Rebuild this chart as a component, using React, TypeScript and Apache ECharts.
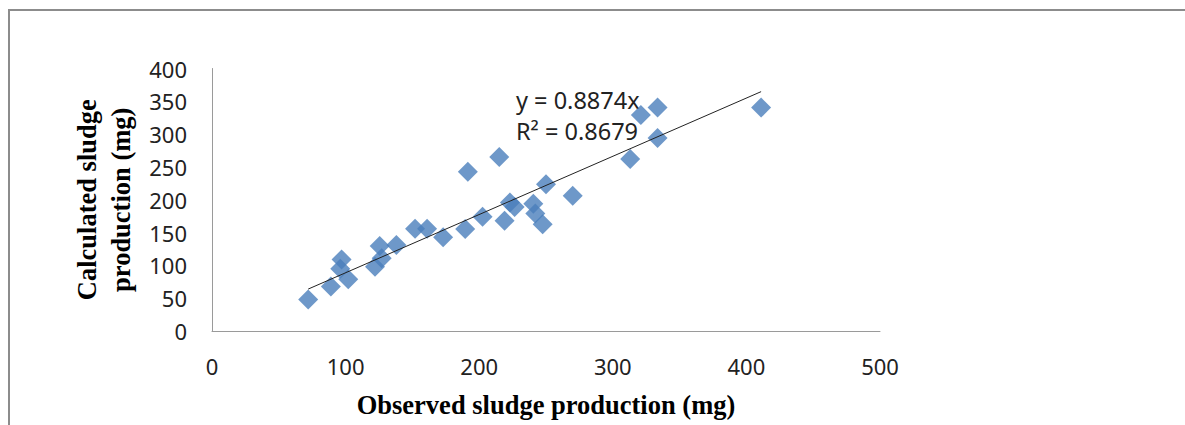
import React, { useEffect, useRef } from "react";
import * as echarts from "echarts";

const observed = [72, 89, 97, 96, 102, 122, 125.5, 127, 138, 152, 161, 173, 189.5, 191.5, 202.5, 215, 219, 223, 226.5, 240.5, 242, 247.5, 250, 270, 313, 321, 333.5, 333.5, 411];
const calculated = [48, 68, 109, 95, 79, 98, 129.5, 111, 131, 156, 156, 143, 155.5, 242.5, 174, 265, 168, 196, 189, 194, 179, 162.5, 223.5, 206, 262, 329, 340.5, 294, 340.5];
const slope = 0.8874;
const rSquared = 0.8679;
const xTicks = [0, 500, 100];
const yTicks = [0, 400, 50];

export default function App() {
  const ref = useRef<HTMLDivElement>(null);
  useEffect(() => {
    if (!ref.current) return;
    const chart = echarts.init(ref.current, undefined, { renderer: "svg" });
    const points = observed.map((x, i) => [x, calculated[i]]);
    const xMin = Math.min(...observed);
    const xMax = Math.max(...observed);
    const trend = [
      [xMin, slope * xMin],
      [xMax, slope * xMax],
    ];
    const tickFont = { fontFamily: "Noto Sans", fontSize: 22, color: "#222" };
    chart.setOption({
      animation: false,
      backgroundColor: "#fff",
      grid: { left: 212, right: 305, top: 68.5, bottom: 88.5 },
      xAxis: {
        type: "value",
        min: xTicks[0],
        max: xTicks[1],
        interval: xTicks[2],
        axisLine: { show: true, lineStyle: { color: "#9a9a9a", width: 1 } },
        axisTick: { show: false },
        splitLine: { show: false },
        axisLabel: { ...tickFont, margin: 24, lineHeight: 22 },
        name: "Observed sludge production (mg)",
        nameLocation: "middle",
        nameGap: 59,
        nameTextStyle: {
          fontFamily: "Liberation Serif",
          fontWeight: "bold",
          fontSize: 26.5,
          lineHeight: 30,
          color: "#000",
        },
      },
      yAxis: {
        type: "value",
        min: yTicks[0],
        max: yTicks[1],
        interval: yTicks[2],
        axisLine: { show: true, lineStyle: { color: "#9a9a9a", width: 1 } },
        axisTick: { show: false },
        splitLine: { show: false },
        axisLabel: { ...tickFont, margin: 25 },
        name: "Calculated sludge\nproduction (mg)",
        nameLocation: "middle",
        nameRotate: 90,
        nameGap: 66,
        nameTextStyle: {
          fontFamily: "Liberation Serif",
          fontWeight: "bold",
          fontSize: 26.5,
          lineHeight: 34,
          color: "#000",
        },
      },
      graphic: [
        {
          type: "rect",
          shape: { x: 9, y: 10, width: 1400, height: 700 },
          style: { fill: "none", stroke: "#8c8c8c", lineWidth: 2 },
          silent: true,
        },
        {
          type: "text",
          left: 516,
          top: 84,
          style: {
            text: `y = ${slope}x\nR² = ${rSquared}`,
            fontFamily: "Noto Sans",
            fontSize: 23.5,
            lineHeight: 31,
            fill: "#222",
          },
        },
      ],
      series: [
        {
          type: "scatter",
          data: points,
          symbol: "diamond",
          symbolSize: 20,
          itemStyle: { color: "#4A7EBB" },
          z: 2,
        },
        {
          type: "line",
          data: trend,
          symbol: "none",
          lineStyle: { color: "#222", width: 1 },
          z: 3,
        },
      ],
    });
    return () => chart.dispose();
  }, []);
  return (
    <div
      ref={ref}
      style={{ position: "fixed", left: 0, top: 0, width: 1185, height: 425 }}
    />
  );
}
